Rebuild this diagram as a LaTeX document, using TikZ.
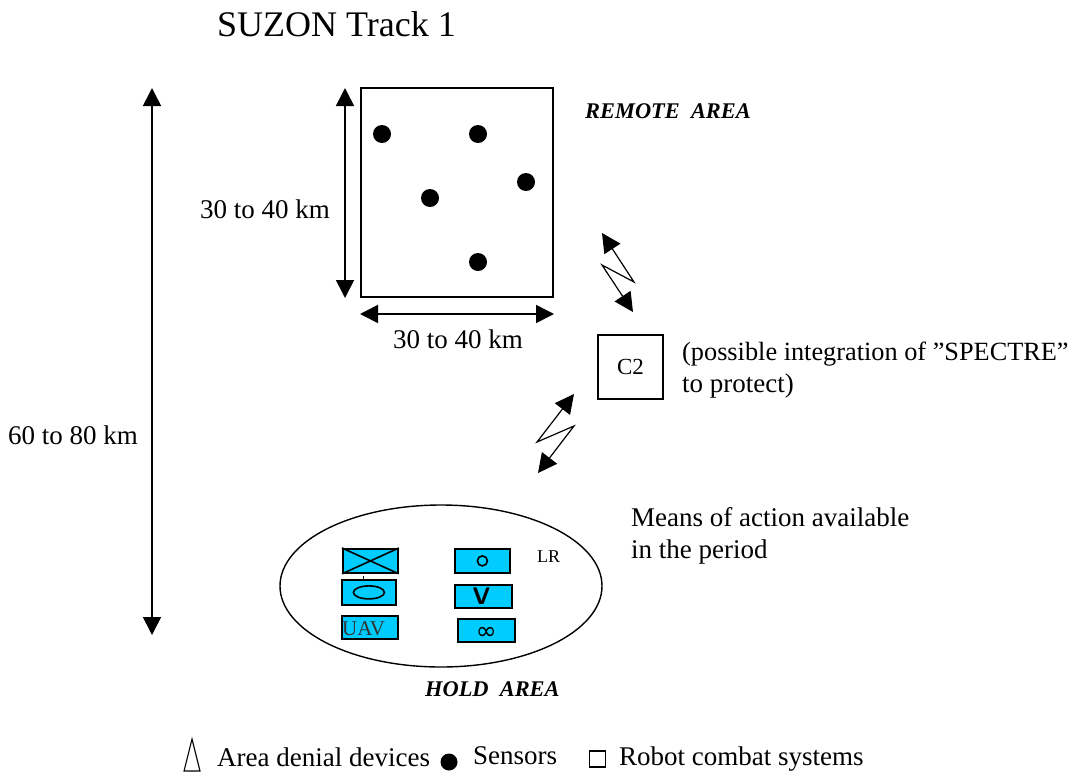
\documentclass[tikz,border=0pt]{standalone}
\usepackage{fontspec}
\setmainfont{Liberation Serif}
\newfontfamily\symfont{DejaVu Sans}
\usetikzlibrary{arrows.meta,positioning,shapes.geometric}
\tikzset{
  dimline/.style={draw,line width=1.6pt,{Triangle[length=18pt,width=18pt]}-{Triangle[length=18pt,width=18pt]}},
  linkline/.style={draw,line width=1.2pt,{Triangle[length=19pt,width=19pt]}-{Triangle[length=19pt,width=19pt]}},
  sensor/.style={circle,fill=black,inner sep=0pt,minimum size=18pt},
  unitbox/.style={draw,line width=1.8pt,fill=unitblue,inner sep=0pt,anchor=north west},
  lbl/.style={font=\fontsize{27}{32}\selectfont,inner sep=0pt,anchor=west,align=left},
  arealbl/.style={font=\fontsize{22.4}{26}\selectfont\bfseries\itshape,inner sep=0pt,anchor=west}
}
\definecolor{unitblue}{HTML}{00CCFF}
\begin{document}
\begin{tikzpicture}[x=1pt,y=-1pt]
    \useasboundingbox (0,0) rectangle (1083,774);
    \node [lbl,font=\fontsize{36}{40}\selectfont] (title) at (217,24) {SUZON Track 1};

    % remote area
    \node [draw,line width=1.4pt,minimum width=192pt,minimum height=209pt,inner sep=0pt] (remote) at (457,192.5) {};
    \node [sensor] (s1) at (382,134) {};
    \node [sensor] (s2) at (478,134) {};
    \node [sensor] (s3) at (526,182) {};
    \node [sensor] (s4) at (430,198) {};
    \node [sensor] (s5) at (478,262) {};
    \node [arealbl] (remotelbl) at (585,111) {REMOTE\ \ AREA};

    % distances
    \coordinate (longtop) at (152,88);
    \coordinate (longbot) at (152,635);
    \draw [dimline] (longtop) -- (longbot);
    \node [lbl] (longlbl) at (8,435) {60 to 80 km};
    \coordinate (hightop) at (345,88);
    \coordinate (highbot) at (345,298);
    \draw [dimline] (hightop) -- (highbot);
    \node [lbl] (highlbl) at (200,209) {30 to 40 km};
    \coordinate (wideleft) at (360,314);
    \coordinate (wideright) at (554,314);
    \draw [dimline] (wideleft) -- (wideright);
    \node [lbl] (widelbl) at (393,339) {30 to 40 km};

    % C2
    \node [draw,line width=1.4pt,minimum width=65pt,minimum height=64pt,inner sep=0pt,font=\fontsize{23}{25}\selectfont] (c2) at (630.5,367) {C2};
    \node [lbl] (c2lbl) at (682,370) {\fontsize{26.3}{32}\selectfont(possible integration of \symbol{34}SPECTRE\symbol{34}\\\fontsize{27}{32}\selectfont to protect)};

    % radio links
    \coordinate (ra) at (602,233);
    \coordinate (rb) at (634,282);
    \coordinate (rc) at (602,265);
    \coordinate (rd) at (633,312);
    \draw [linkline] (ra) -- (rb) -- (rc) -- (rd);
    \coordinate (la) at (574,394);
    \coordinate (lb) at (537,442);
    \coordinate (lc) at (574,426);
    \coordinate (ld) at (538,473);
    \draw [linkline] (la) -- (lb) -- (lc) -- (ld);

    % hold area
    \node [draw,ellipse,line width=1.4pt,minimum width=322pt,minimum height=162pt,inner sep=0pt] (hold) at (441,586) {};
    \node [unitbox,minimum width=55pt,minimum height=24pt] (inf) at (342,548) {};
    \draw [line width=1.6pt] (inf.north west) -- (inf.south east) (inf.north east) -- (inf.south west);
    \coordinate (ticktop) at (363,576);
    \node [unitbox,minimum width=54pt,minimum height=25pt] (rec) at (341,579) {};
    \draw [line width=1pt] (ticktop) -- (rec.north -| ticktop);
    \node [draw,ellipse,line width=1.6pt,minimum width=31pt,minimum height=13pt,inner sep=0pt] (recsym) at (rec) {};
    \node [unitbox,minimum width=56pt,minimum height=23pt] (uav) at (341,615) {};
    \node [font=\fontsize{21}{25}\selectfont,inner sep=0pt,anchor=west,text=black!80] (uavlbl) at (342,629) {UAV};
    \node [unitbox,minimum width=55pt,minimum height=24pt] (art) at (454,548) {};
    \node [draw,circle,line width=1.6pt,minimum size=10pt,inner sep=0pt] (artsym) at (art) {};
    \node [font=\fontsize{18}{22}\selectfont,inner sep=0pt,anchor=west] (lr) at (537,557) {LR};
    \node [unitbox,minimum width=57pt,minimum height=23pt] (vee) at (454,584) {};
    \node [font=\fontsize{24}{25}\selectfont\sffamily] (veesym) at ([xshift=-2pt]vee.center) {\textbf{V}};
    \node [unitbox,minimum width=57pt,minimum height=23pt] (endless) at (457,618) {};
    \node [font=\fontsize{25}{25}\selectfont\symfont,inner sep=0pt] (endlesssym) at ([yshift=-3pt]endless.center) {∞};
    \node [lbl] (meanslbl) at (631,536) {Means of action available\\in the period};
    \node [arealbl] (holdlbl) at (425,689) {HOLD\ \ AREA};

    % legend
    \coordinate (keytop) at (192,739);
    \coordinate (keyleft) at (184,771);
    \coordinate (keyright) at (200,771);
    \draw [line width=1.1pt] (keytop) -- (keyleft) -- (keyright) -- cycle;
    \node [lbl] (keytrilbl) at (217,757) {Area denial devices};
    \node [sensor,minimum size=17pt] (keydot) at (449,762) {};
    \node [lbl] (keydotlbl) at (473,756) {Sensors};
    \node [draw,line width=1.1pt,minimum size=16pt,inner sep=0pt] (keybox) at (597.5,759) {};
    \node [lbl] (keyboxlbl) at (619,759) {Robot combat systems};
\end{tikzpicture}
\end{document}
